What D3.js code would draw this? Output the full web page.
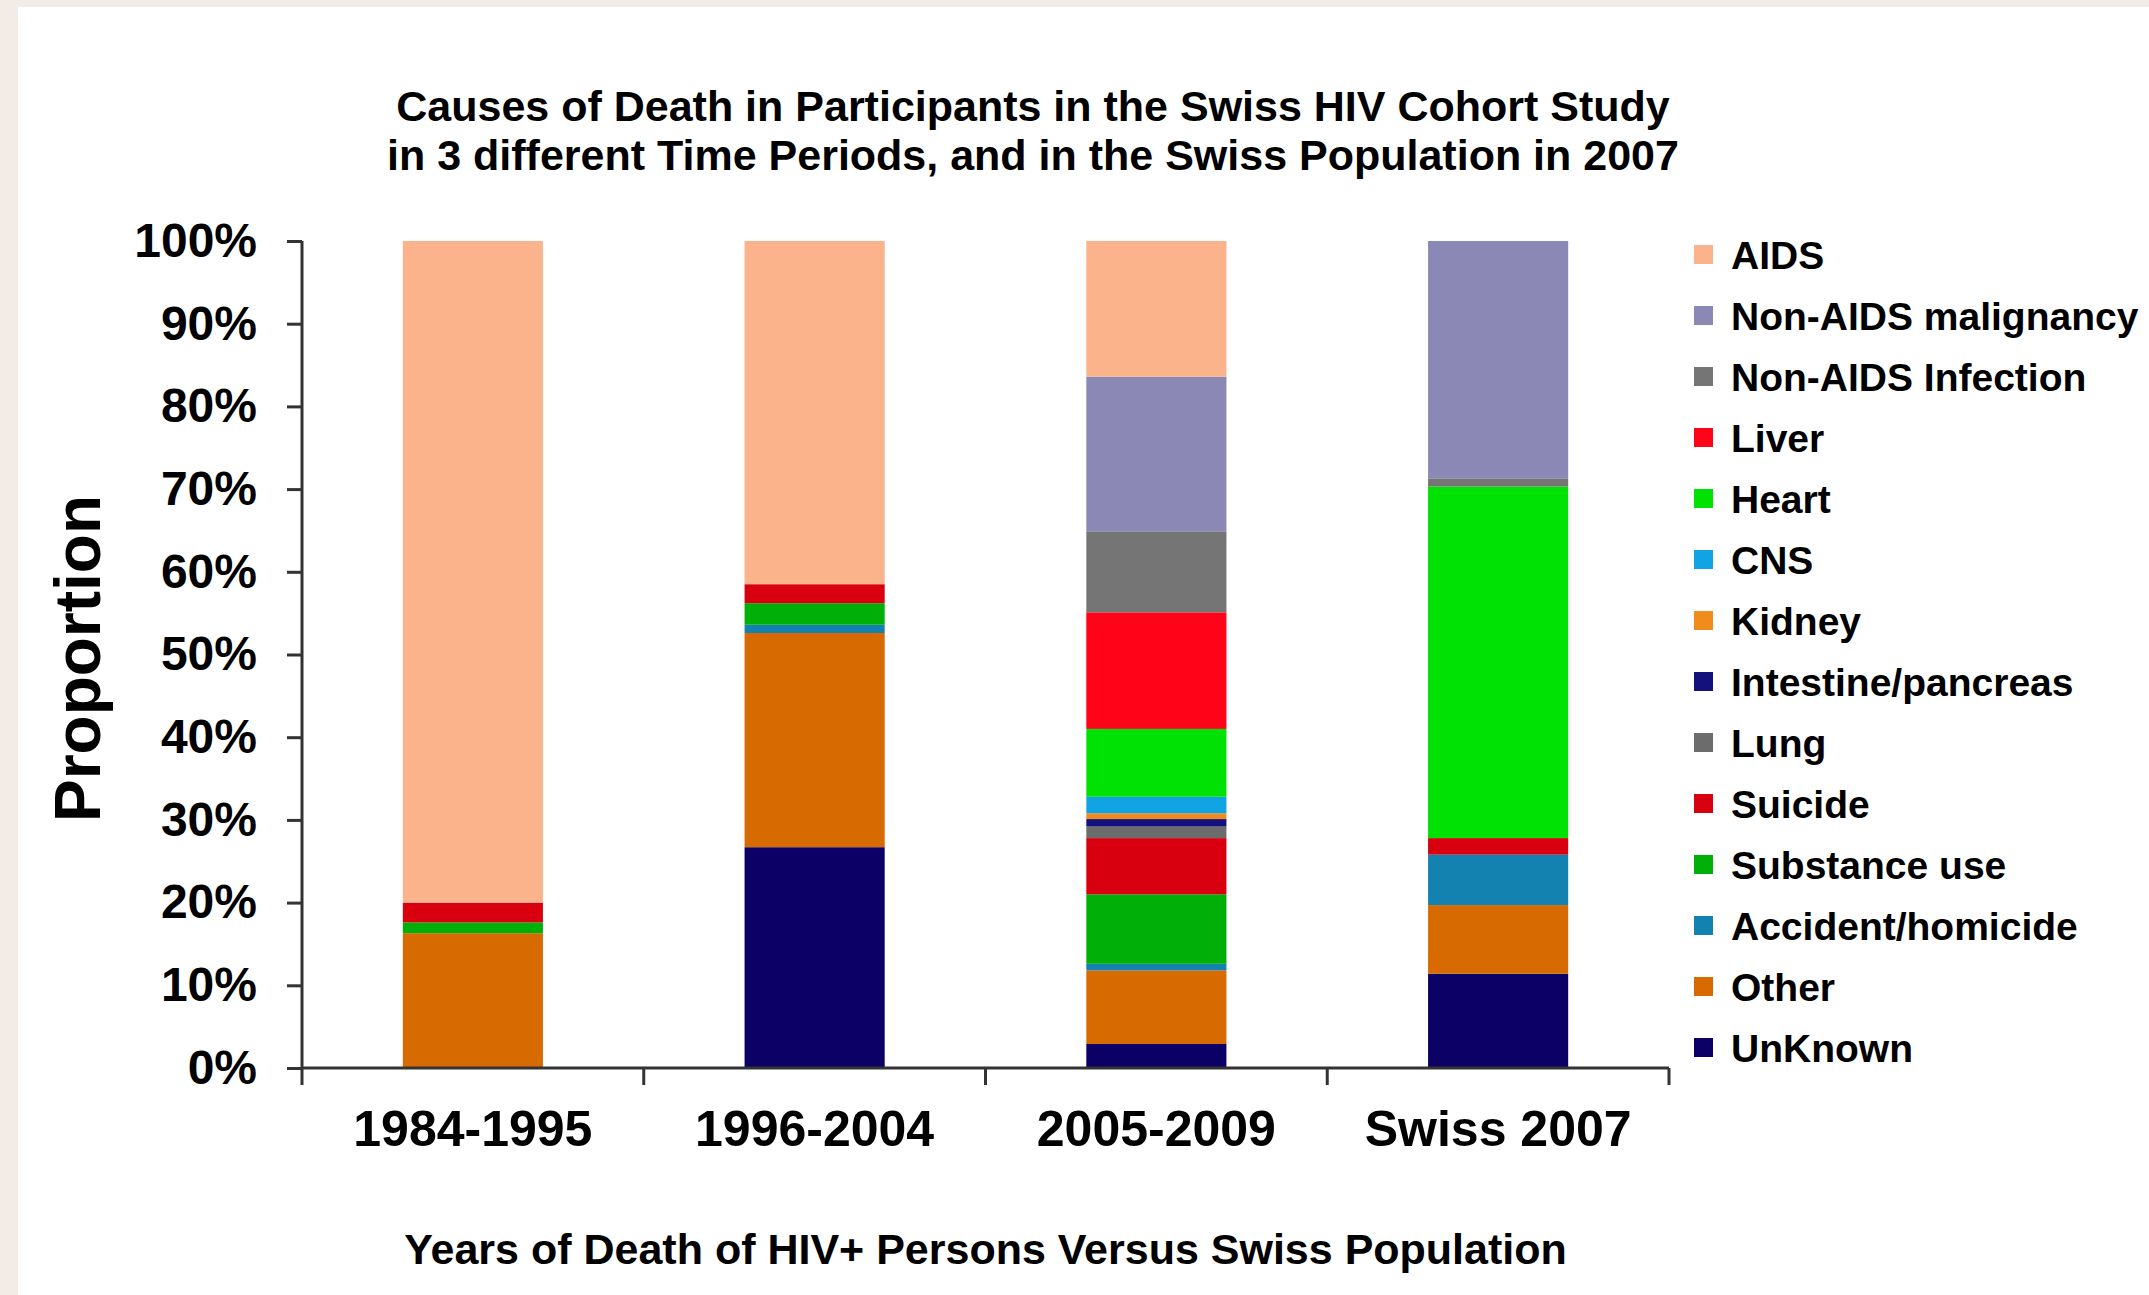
<!DOCTYPE html>
<html>
<head>
<meta charset="utf-8">
<script src="https://cdn.jsdelivr.net/npm/d3@7"></script>
<style>
  html, body { margin: 0; padding: 0; background: #f3ece6; }
  svg { display: block; }
  text { font-family: "Liberation Sans", Arial, Helvetica, sans-serif; font-weight: bold; fill: #000; }
</style>
</head>
<body>
<svg id="chart" width="2149" height="1295"></svg>
<script>
// Periods on the x axis
const periods = ["1984-1995", "1996-2004", "2005-2009", "Swiss 2007"];

// Share of deaths (%) per cause, one value per period
const aids              = [80.0, 41.5, 16.4, 0];
const nonAidsMalignancy = [0, 0, 18.7, 28.7];
const nonAidsInfection  = [0, 0, 9.8, 1.0];
const liver             = [0, 0, 14.1, 0];
const heart             = [0, 0, 8.2, 42.5];
const cns               = [0, 0, 2.0, 0];
const kidney            = [0, 0, 0.7, 0];
const intestinePancreas = [0, 0, 0.9, 0];
const lung              = [0, 0, 1.4, 0];
const suicide           = [2.4, 2.3, 6.8, 2.0];
const substanceUse      = [1.3, 2.6, 8.4, 0];
const accidentHomicide  = [0, 1.0, 0.8, 6.1];
const other             = [16.3, 25.9, 8.9, 8.3];
const unknown           = [0, 26.7, 2.9, 11.4];

// Causes in legend order (top of the stack first)
const causes = ["AIDS", "Non-AIDS malignancy", "Non-AIDS Infection", "Liver", "Heart", "CNS",
  "Kidney", "Intestine/pancreas", "Lung", "Suicide", "Substance use", "Accident/homicide",
  "Other", "UnKnown"];
const causeValues = [aids, nonAidsMalignancy, nonAidsInfection, liver, heart, cns, kidney,
  intestinePancreas, lung, suicide, substanceUse, accidentHomicide, other, unknown];
const causeColors = ["#fbb38b", "#8b88b6", "#757575", "#ff0418", "#00e104", "#10a4e4",
  "#f08c1c", "#14107c", "#6c6c6c", "#d8000f", "#00b008", "#1482b0", "#d86a02", "#0c0066"];

// Y axis tick values
const yTicks = [0, 0.1, 0.2, 0.3, 0.4, 0.5, 0.6, 0.7, 0.8, 0.9, 1.0];

const svg = d3.select("#chart");

// white slide panel on the beige page
svg.append("rect").attr("x", 18).attr("y", 7).attr("width", 2149 - 18).attr("height", 1295 - 7)
  .attr("fill", "#ffffff");

const plot = { left: 302, right: 1669, top: 241, bottom: 1068 };

const x = d3.scaleBand().domain(periods).range([plot.left, plot.right])
  .paddingInner(0.59).paddingOuter(0.295);
const y = d3.scaleLinear().domain([0, 1]).range([plot.bottom, plot.top]);

// build rows for stacking: one object per period
const rows = periods.map((p, i) => {
  const r = { period: p };
  causes.forEach((c, k) => { r[c] = causeValues[k][i] / 100; });
  return r;
});

const stackKeys = causes.slice().reverse(); // bottom of stack first
const series = d3.stack().keys(stackKeys)(rows);
const colorOf = d3.scaleOrdinal().domain(causes).range(causeColors);

const bars = svg.append("g");
series.forEach(s => {
  bars.append("g").attr("fill", colorOf(s.key))
    .selectAll("rect").data(s.filter(d => d[1] - d[0] > 0)).join("rect")
    .attr("x", d => x(d.data.period))
    .attr("width", x.bandwidth())
    .attr("y", d => y(d[1]))
    .attr("height", d => y(d[0]) - y(d[1]));
});

// Y axis
const yAxis = svg.append("g").attr("transform", `translate(${plot.left},0)`)
  .call(d3.axisLeft(y).tickValues(yTicks).tickFormat(d3.format(".0%")).tickSize(15).tickPadding(30));
yAxis.select(".domain").attr("stroke", "#333").attr("stroke-width", 3)
  .attr("d", `M0,${plot.top}V${plot.bottom}`);
yAxis.selectAll(".tick line").attr("stroke", "#333").attr("stroke-width", 3);
yAxis.selectAll(".tick text").style("font-size", "48px").attr("fill", "#000");

// X axis: labels under bars, ticks between categories
const xAxis = svg.append("g").attr("transform", `translate(0,${plot.bottom})`)
  .call(d3.axisBottom(x).tickSize(0).tickPadding(42));
xAxis.select(".domain").attr("stroke", "#333").attr("stroke-width", 3)
  .attr("d", `M${plot.left},0H${plot.right}`);
xAxis.selectAll(".tick text").style("font-size", "50px").attr("fill", "#000");

const gap = (x.step() - x.bandwidth()) / 2;
const bounds = periods.map(p => x(p) - gap).concat([x(periods[periods.length - 1]) + x.bandwidth() + gap]);
xAxis.selectAll("line.sep").data(bounds).join("line").attr("class", "sep")
  .attr("x1", d => d).attr("x2", d => d).attr("y1", 0).attr("y2", 17)
  .attr("stroke", "#333").attr("stroke-width", 3);

// Titles
const cx = (plot.left + plot.right) / 2;
svg.append("text").attr("x", 1033).attr("y", 121).attr("text-anchor", "middle")
  .style("font-size", "43px").text("Causes of Death in Participants in the Swiss HIV Cohort Study");
svg.append("text").attr("x", 1033).attr("y", 170).attr("text-anchor", "middle")
  .style("font-size", "43px").text("in 3 different Time Periods, and in the Swiss Population in 2007");
svg.append("text").attr("x", cx).attr("y", 1264).attr("text-anchor", "middle")
  .style("font-size", "43px").text("Years of Death of HIV+ Persons Versus Swiss Population");
svg.append("text").attr("transform", `translate(100,${(plot.top + plot.bottom) / 2 + 4}) rotate(-90)`)
  .attr("text-anchor", "middle").style("font-size", "64px").text("Proportion");

// Legend
const legend = svg.append("g").attr("transform", "translate(1694,255)");
const item = legend.selectAll("g").data(causes).join("g")
  .attr("transform", (d, i) => `translate(0,${i * 61})`);
item.append("rect").attr("x", 0).attr("y", -10).attr("width", 19).attr("height", 19)
  .attr("fill", d => colorOf(d));
item.append("text").attr("x", 37).attr("y", 14).style("font-size", "39px").text(d => d);
</script>
</body>
</html>
